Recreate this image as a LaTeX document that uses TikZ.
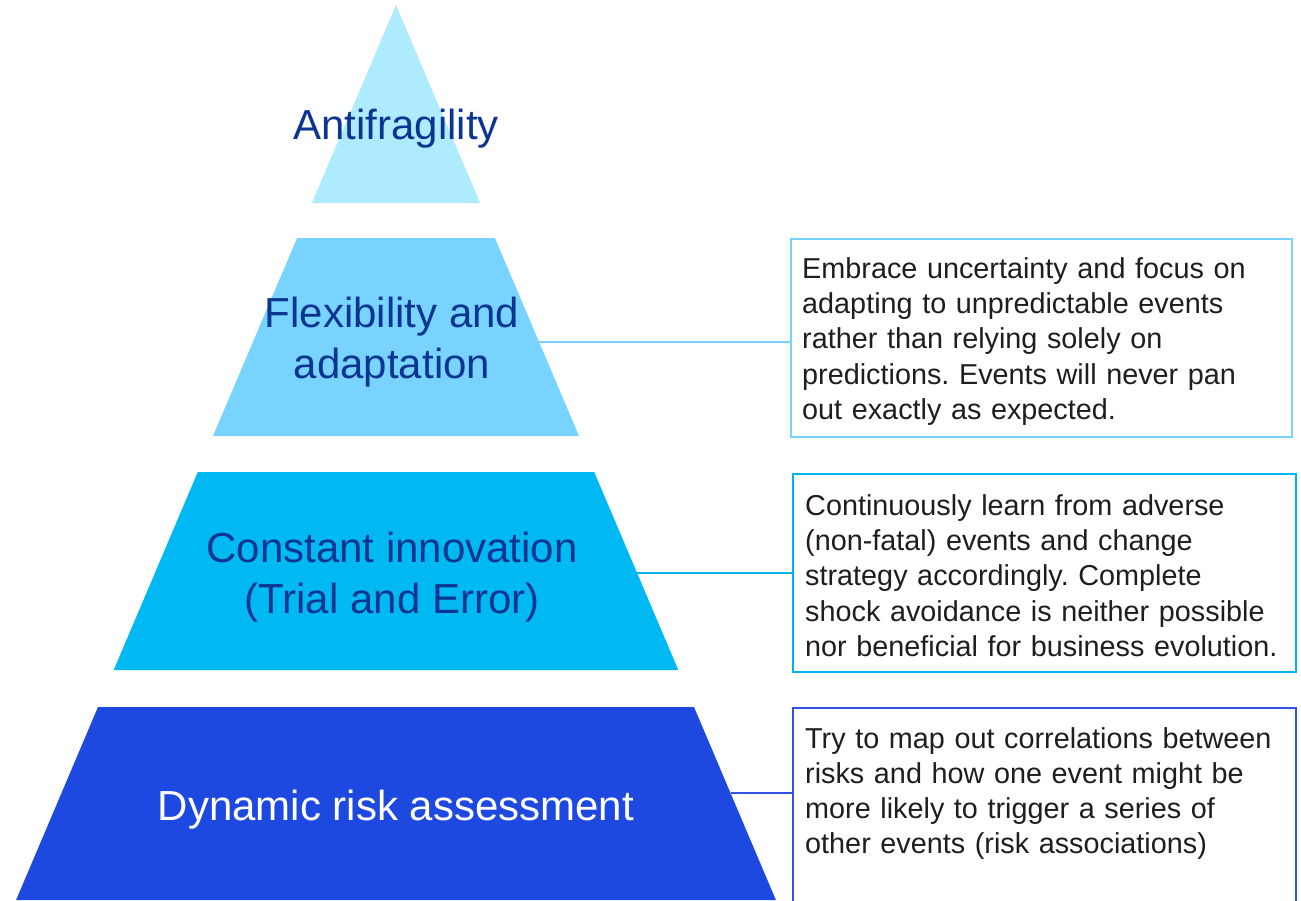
\documentclass[tikz,border=0pt]{standalone}
\usepackage{fontspec}
\setmainfont{Liberation Sans}
\frenchspacing
\begin{document}
\definecolor{tierA}{HTML}{AEEBFE}
\definecolor{tierB}{HTML}{78D3FF}
\definecolor{tierC}{HTML}{00B9F2}
\definecolor{tierD}{HTML}{1E49E0}
\definecolor{headblue}{HTML}{0B3590}
\definecolor{bodytext}{HTML}{1E1E1E}
\definecolor{frameB}{HTML}{7AD3FF}
\definecolor{frameC}{HTML}{00B2F0}
\definecolor{frameD}{HTML}{2F52E2}
\begin{tikzpicture}[x=1pt,y=-1pt,
  tierlabel/.style={text=headblue,align=center,inner sep=0pt,
    font=\fontsize{42}{51}\selectfont},
  descframe/.style={draw,line width=1.6pt,anchor=north west,inner sep=0pt},
  desctext/.style={text=bodytext,align=left,anchor=west,inner sep=0pt,
    text width=490pt,font=\fontsize{28.8}{35.25}\selectfont},
  link/.style={line width=1.6pt}]
\useasboundingbox (0,0) rectangle (1301,900);
\clip (0,0) rectangle (1301,900);

% pyramid tiers, all slices of one triangle with apex at (396,5)
\coordinate (apex) at (396,5);
\fill[tierA] (apex) -- (480.05,203) -- (311.95,203) -- cycle;
\fill[tierB] (297.1,238) -- (494.9,238) -- (579.0,436) -- (213.0,436) -- cycle;
\fill[tierC] (197.8,472) -- (594.2,472) -- (678.3,670) -- (113.7,670) -- cycle;
\fill[tierD] (98.0,707) -- (694.0,707) -- (775.9,900) -- (16.1,900) -- cycle;

% tier labels
\node[tierlabel] (l1) at (396,129) {Antifragility};
\node[tierlabel] (l2) at (392,342) {Flexibility and\\adaptation};
\node[tierlabel] (l3) at (392,577) {Constant innovation\\(Trial and Error)};
\node[tierlabel,text=white] (l4) at (396,810) {Dynamic risk assessment};

% description frames
\node[descframe,frameB,minimum width=501pt,minimum height=198pt] (b1) at (790,238) {};
\node[descframe,frameC,minimum width=503pt,minimum height=198pt] (b2) at (792,473) {};
\node[descframe,frameD,minimum width=503pt,minimum height=240pt] (b3) at (792,707) {};

% description texts
\node[desctext] (t1) at (802,341.5) {Embrace uncertainty and focus on\\adapting to unpredictable events\\rather than relying solely on\\predictions. Events will never pan\\out exactly as expected.};
\node[desctext] (t2) at (805,575.5) {Continuously learn from adverse\\(non-fatal) events and change\\strategy accordingly. Complete\\shock avoidance is neither possible\\nor beneficial for business evolution.};
\node[desctext] (t3) at (805,793.5) {Try to map out correlations between\\risks and how one event might be\\more likely to trigger a series of\\other events (risk associations)};

% connectors from the right edge of each tier to its frame
\coordinate (c1) at (539.1,342);
\coordinate (c2) at (637.1,573);
\coordinate (c3) at (730.5,793);
\draw[link,frameB] (c1) -- (c1 -| b1.west);
\draw[link,frameC] (c2) -- (c2 -| b2.west);
\draw[link,frameD] (c3) -- (c3 -| b3.west);
\end{tikzpicture}
\end{document}
